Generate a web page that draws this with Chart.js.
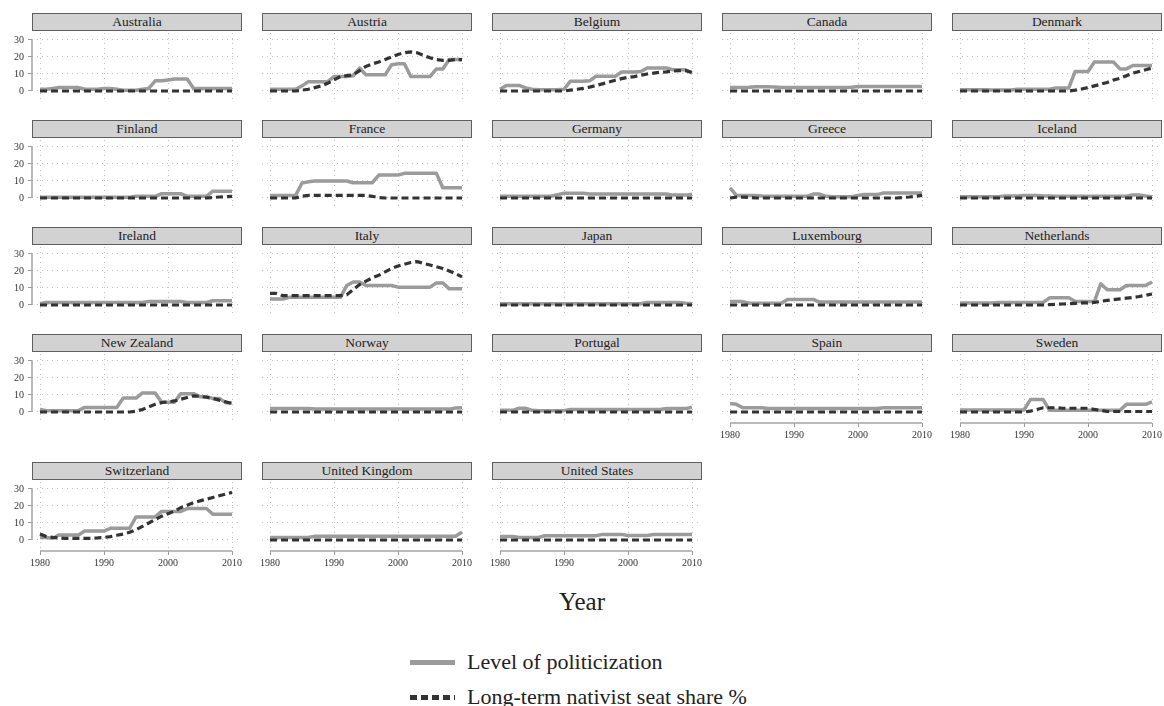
<!DOCTYPE html>
<html><head><meta charset="utf-8">
<script src="https://cdn.jsdelivr.net/npm/chart.js@4.4.0/dist/chart.umd.min.js"></script>
<style>
html,body{margin:0;padding:0;background:#fff;}
body{width:1164px;height:706px;overflow:hidden;position:relative;font-family:"Liberation Serif",serif;}
.hdr{position:absolute;height:18px;width:210px;box-sizing:border-box;border:1px solid #5e5e5e;background:#d2d2d2;text-align:center;font-size:13.5px;line-height:16px;color:#222;white-space:nowrap;}
canvas{position:absolute;}
.legtxt{position:absolute;left:467px;font-size:22px;line-height:24px;color:#222;white-space:nowrap;}
</style></head><body>
<div id="wrap"></div>
<div style="position:absolute;left:0;width:1164px;text-align:center;top:587px;font-size:25px;line-height:30px;color:#222">Year</div>
<div style="position:absolute;left:410px;top:660px;width:45px;height:5px;background:#9b9b9b"></div>
<div class="legtxt" style="top:650px">Level of politicization</div>
<div style="position:absolute;left:410px;top:695px;width:45px;height:5px;background:repeating-linear-gradient(to right,#333 0 7px,transparent 7px 11px)"></div>
<div class="legtxt" style="top:685px">Long-term nativist seat share %</div>
<script>
const years = [1980,1981,1982,1983,1984,1985,1986,1987,1988,1989,1990,1991,1992,1993,1994,1995,1996,1997,1998,1999,2000,2001,2002,2003,2004,2005,2006,2007,2008,2009,2010];
const countries = ["Australia","Austria","Belgium","Canada","Denmark","Finland","France","Germany","Greece","Iceland","Ireland","Italy","Japan","Luxembourg","Netherlands","New Zealand","Norway","Portugal","Spain","Sweden","Switzerland","United Kingdom","United States"];
const xTicks = [1980,1990,2000,2010];
const yTicks = [0,10,20,30];

const pol_Australia = [1,1,1.5,2,2,2,2,1,1,1,1.5,1.5,1,0.5,0.5,0.5,1,1.5,6,6,6.5,7,7,7,1.5,1.5,1.5,1.5,1.5,1.5,1.5];
const nat_Australia = [0,0,0,0,0,0,0,0,0,0,0,0,0,0,0,0,0,0,0,0,0,0,0,0,0,0,0,0,0,0,0];
const pol_Austria = [1,1,1,1,1,3,5.5,5.5,5.5,5.5,8.5,8.5,8.5,9,13.5,9.5,9.5,9.5,9.5,15.5,16,16,8.5,8.5,8.5,8.5,13,13,18.5,18.5,18.5];
const nat_Austria = [0,0,0,0,0,0.5,1,2,3,4.5,6.5,8.5,9,9.5,12,14.5,16,17,18.5,20,21.5,22.5,23,22.5,21,19.5,18.5,18,18,18.5,18.5];
const pol_Belgium = [1,3.3,3.3,3.3,1.8,1,0.8,0.8,0.8,0.8,1,5.8,5.8,5.8,6,8.7,8.7,8.7,8.7,11.2,11.2,11.2,11.5,13.5,13.5,13.5,13.5,12.5,12.5,12.5,10.5];
const nat_Belgium = [0,0,0,0,0,0,0,0,0,0,0,0.5,1,1.5,2.3,3.2,4.2,5.2,6.3,7.3,8,8.5,9.3,10,10.5,11,11.3,11.7,12,12,11];
const pol_Canada = [2,2,2,2.2,2.5,2.5,2.5,2.3,2,2,2,2,2,2,2,2,2,2,2,2.2,2.6,2.6,2.6,2.6,2.6,2.6,2.6,2.6,2.6,2.6,2.6];
const nat_Canada = [0,0,0,0,0,0,0,0,0,0,0,0,0,0,0,0,0,0,0,0,0,0,0,0,0,0,0,0,0,0,0];
const pol_Denmark = [0.8,0.8,0.8,0.8,0.8,0.6,0.6,0.6,0.6,1,1,1,1,1,1,1.8,1.8,1.8,11.5,11.5,11.5,17,17,17,17,13,13,15,15,15,15];
const nat_Denmark = [0,0,0,0,0,0,0,0,0,0,0,0,0,0,0,0,0,0,0.5,1.2,2,3,4,5,6.5,7.5,9,10.5,11.5,12.5,13.5];
const pol_Finland = [0.4,0.4,0.4,0.4,0.4,0.4,0.4,0.4,0.4,0.4,0.4,0.4,0.4,0.4,0.4,1,1,1,1,2.5,2.5,2.5,2.5,1,1,1,1,4,4,4,4];
const nat_Finland = [0,0,0,0,0,0,0,0,0,0,0,0,0,0,0,0,0,0,0,0,0,0,0,0,0,0,0,0.3,0.6,0.8,1];
const pol_France = [1.5,1.5,1.5,1.5,1.5,8.8,9.5,10,10,10,10,10,10,9,9,9,9,13.5,13.5,13.5,13.5,14.5,14.5,14.5,14.5,14.5,14.5,6,6,6,6];
const nat_France = [0,0,0,0,0,1,1.5,1.5,1.5,1.5,1.5,1.5,1.5,1.5,1.5,1.5,1,0.2,0,0,0,0,0,0,0,0,0,0,0,0,0];
const pol_Germany = [1,1,1,1,1,1,1,1,1,2,2.8,2.8,2.8,2.8,2.3,2.3,2.3,2.3,2.3,2.3,2.3,2.3,2.3,2.3,2.3,2.3,2.3,1.7,1.7,1.7,2.2];
const nat_Germany = [0,0,0,0,0,0,0,0,0,0,0,0,0,0,0,0,0,0,0,0,0,0,0,0,0,0,0,0,0,0,0];
const pol_Greece = [6,1.5,1.5,1.5,1.5,1.2,1,1,1,1,1,1,1,2.3,2.3,1,0.8,0.8,0.8,0.8,1.5,2,2,2,3,3,3,3,3,3,3];
const nat_Greece = [0,0.5,0.5,0.3,0,0,0,0,0,0,0,0,0,0,0,0,0,0,0,0,0,0,0,0,0,0,0,0.3,0.6,1,1.5];
const pol_Iceland = [0.8,0.8,0.8,0.8,0.8,0.8,0.8,1.2,1.2,1.2,1.5,1.5,1.5,1.2,1.2,1,1,1,1,1,1,1,1,1,1,1,1,1.8,1.8,1.2,0.8];
const nat_Iceland = [0,0,0,0,0,0,0,0,0,0,0,0,0,0,0,0,0,0,0,0,0,0,0,0,0,0,0,0,0,0,0];
const pol_Ireland = [0.8,1.5,1.5,1.5,1.5,1.5,1.5,1.5,1.5,1.5,1.5,1.5,1.5,1.5,1.5,1.5,1.5,2,2,2,2,2,2,1.5,1.5,1.5,1.5,2.5,2.5,2.5,2.5];
const nat_Ireland = [0,0,0,0,0,0,0,0,0,0,0,0,0,0,0,0,0,0,0,0,0,0,0,0,0,0,0,0,0,0,0];
const pol_Italy = [3.5,3.5,3.5,4.5,4.5,4.5,4.5,4.5,4.5,4.5,4.5,4.5,11.5,13.5,13.5,11.5,11.5,11.5,11.5,11.5,10.5,10.5,10.5,10.5,10.5,10.5,13,13,9.5,9.5,9.5];
const nat_Italy = [6.8,6.8,5.5,5.5,5.5,5.5,5.5,5.5,5.5,5.5,5.5,5.5,6,9,12,14,16,17.5,19.5,21.5,23,24,25,25.5,24.5,23.5,22.5,21.5,20,18.5,16.5];
const pol_Japan = [0.7,0.7,0.7,0.7,0.7,0.7,0.7,0.7,0.7,0.7,0.7,0.7,0.7,0.7,0.7,0.7,0.7,0.7,0.7,0.7,0.7,0.7,0.7,1.5,1.5,1.5,1.5,1.5,1.5,1,0.8];
const nat_Japan = [0,0,0,0,0,0,0,0,0,0,0,0,0,0,0,0,0,0,0,0,0,0,0,0,0,0,0,0,0,0,0];
const pol_Luxembourg = [2,2,2,1,1,1,1,1,1,3.3,3.3,3.3,3.3,3.3,1.7,1.7,1.7,1.7,1.7,1.7,1.7,1.7,1.7,1.7,1.7,1.7,1.7,1.7,1.7,1.7,1.7];
const nat_Luxembourg = [0,0,0,0,0,0,0,0,0,0,0,0,0,0,0,0,0,0,0,0,0,0,0,0,0,0,0,0,0,0,0];
const pol_Netherlands = [1.2,1.2,1.2,1.2,1.2,1.2,1.5,1.5,1.5,1.5,1.5,1.5,1.5,1.5,4.2,4.2,4.2,4.2,2,2,2,2,12.5,9,9,9,11.5,11.5,11.5,11.5,13.5];
const nat_Netherlands = [0,0,0,0,0,0,0,0,0,0,0,0,0,0,0.2,0.4,0.6,0.8,1,1.2,1.3,1.5,2.2,2.7,3.2,3.6,4,4.4,5,5.7,6.5];
const pol_NewZealand = [1.5,0.8,0.8,0.8,0.8,0.8,0.8,2.7,2.7,2.7,2.7,2.7,2.7,8.2,8.2,8.2,11.2,11.2,11.2,5.7,5.7,5.7,10.8,10.8,10.8,9,9,8,8,5.5,5.3];
const nat_NewZealand = [0,0,0,0,0,0,0,0,0,0,0,0,0,0,0,0.5,1.5,3,4.5,5.5,6,6.5,7.5,8.5,9.5,9.2,8.7,8,7,6,5];
const pol_Norway = [2,2,2,2,2,2,2,1.7,1.7,1.7,1.7,1.7,1.7,1.7,1.7,1.7,1.7,1.7,1.7,1.7,1.7,1.7,1.7,1.7,1.7,1.7,1.7,1.7,1.7,2.3,2.5];
const nat_Norway = [0,0,0,0,0,0,0,0,0,0,0,0,0,0,0,0,0,0,0,0,0,0,0,0,0,0,0,0,0,0,0];
const pol_Portugal = [1,1,1,2.2,2.2,1,0.8,0.8,0.8,0.8,0.8,1.5,1.5,1.5,1.5,1.5,1.5,1.5,1.5,1.5,1.5,1.5,1.5,1.5,1.5,1.5,2,2,2,2,2.8];
const nat_Portugal = [0,0,0,0,0,0,0,0,0,0,0,0,0,0,0,0,0,0,0,0,0,0,0,0,0,0,0,0,0,0,0];
const pol_Spain = [5,4.5,2.5,2.5,2.5,2.5,2,2,2,2,2,2,2,2,2,2,2,2,2,2,2,2,2,2,2.5,2.5,2.5,2.5,2.5,2.5,2.5];
const nat_Spain = [0,0,0,0,0,0,0,0,0,0,0,0,0,0,0,0,0,0,0,0,0,0,0,0,0,0,0,0,0,0,0];
const pol_Sweden = [1.2,1.2,1.2,1.2,1.2,1.2,1.2,1.2,1.2,1.2,1.2,7.3,7.3,7.3,1,1,1,1,1,1,1,1,1,1,1,1,4.5,4.5,4.5,4.5,6];
const nat_Sweden = [0,0,0,0,0,0,0,0,0,0,0,0.5,1.5,2.5,2.5,2.5,2.2,2.2,2.2,2.2,2.2,1.5,1,0.3,0.3,0.3,0.3,0.3,0.3,0.3,0.3];
const pol_Switzerland = [1.5,1.5,1,3,3,3,3,5.3,5.3,5.3,5.3,6.9,6.9,6.9,6.9,13.6,13.6,13.6,13.6,16.8,16.8,16.8,16.8,18.5,18.5,18.5,18.5,15.2,15.2,15.2,15.2];
const nat_Switzerland = [3.5,2,1.5,1.2,1,1,1,1,1,1.2,1.5,2,2.8,3.5,4.5,6,8,10,12,14,15.5,17,19,20.5,22,23,24,25,26,27,28];
const pol_UnitedKingdom = [1.5,1.5,1.5,1.5,1.5,1.5,1.5,2.2,2.2,2.2,2.2,2.2,2.2,2.2,2.2,2.2,2.2,2.2,2.2,2.2,2.2,2.2,2.2,2.2,2.2,2.2,2.2,2.2,2.2,2.2,4.7];
const nat_UnitedKingdom = [0,0,0,0,0,0,0,0,0,0,0,0,0,0,0,0,0,0,0,0,0,0,0,0,0,0,0,0,0,0,0];
const pol_UnitedStates = [2,2,2,1.5,1.5,1.5,1.5,2.5,2.5,2.5,2.5,2.5,2.5,2.5,2.5,2.5,3.3,3.3,3.3,3.3,2.7,2.7,2.7,2.7,3.2,3.2,3.2,3.2,3.2,3.2,3.2];
const nat_UnitedStates = [0,0,0,0,0,0,0,0,0,0,0,0,0,0,0,0,0,0,0,0,0,0,0,0,0,0,0,0,0,0,0];

const seriesFor = {
  "Australia":[pol_Australia,nat_Australia],"Austria":[pol_Austria,nat_Austria],"Belgium":[pol_Belgium,nat_Belgium],
  "Canada":[pol_Canada,nat_Canada],"Denmark":[pol_Denmark,nat_Denmark],"Finland":[pol_Finland,nat_Finland],
  "France":[pol_France,nat_France],"Germany":[pol_Germany,nat_Germany],"Greece":[pol_Greece,nat_Greece],
  "Iceland":[pol_Iceland,nat_Iceland],"Ireland":[pol_Ireland,nat_Ireland],"Italy":[pol_Italy,nat_Italy],
  "Japan":[pol_Japan,nat_Japan],"Luxembourg":[pol_Luxembourg,nat_Luxembourg],"Netherlands":[pol_Netherlands,nat_Netherlands],
  "New Zealand":[pol_NewZealand,nat_NewZealand],"Norway":[pol_Norway,nat_Norway],"Portugal":[pol_Portugal,nat_Portugal],
  "Spain":[pol_Spain,nat_Spain],"Sweden":[pol_Sweden,nat_Sweden],"Switzerland":[pol_Switzerland,nat_Switzerland],
  "United Kingdom":[pol_UnitedKingdom,nat_UnitedKingdom],"United States":[pol_UnitedStates,nat_UnitedStates]
};

const axisLines = {
  id:'axisLines',
  beforeDatasetsDraw(chart, args, opts){
    const {ctx, chartArea, scales} = chart;
    ctx.save();
    ctx.strokeStyle = '#a3a3a3';
    ctx.lineWidth = 1.5;
    if (opts.y){
      ctx.beginPath();
      ctx.moveTo(chartArea.left, scales.y.getPixelForValue(yTicks[0]));
      ctx.lineTo(chartArea.left, scales.y.getPixelForValue(yTicks[yTicks.length-1]));
      ctx.stroke();
    }
    if (opts.x){
      ctx.beginPath();
      ctx.moveTo(scales.x.getPixelForValue(xTicks[0]), chartArea.bottom);
      ctx.lineTo(scales.x.getPixelForValue(xTicks[xTicks.length-1]), chartArea.bottom);
      ctx.stroke();
    }
    ctx.restore();
  }
};

const headerTops = [13,120,227,334,462];
const wrap = document.getElementById('wrap');
const tickFont = {family:'Liberation Serif', size:10};

countries.forEach((name, i) => {
  const r = Math.floor(i/5), c = i%5;
  const showX = (r === 4) || (r === 3 && c >= 3);
  const showY = (c === 0);
  const top = headerTops[r];
  const hdr = document.createElement('div');
  hdr.className = 'hdr';
  hdr.style.left = (32 + 230*c) + 'px';
  hdr.style.top = top + 'px';
  hdr.textContent = name;
  wrap.appendChild(hdr);

  const cv = document.createElement('canvas');
  const h = showX ? 101 : 71;
  cv.width = 250; cv.height = h;
  cv.style.width = '250px'; cv.style.height = h + 'px';
  cv.style.left = (230*c) + 'px';
  cv.style.top = (top + 18) + 'px';
  wrap.appendChild(cv);

  const [pol, nat] = seriesFor[name];
  new Chart(cv, {
    type:'line',
    data:{datasets:[
      {label:'Level of politicization', data: years.map((yr,k)=>({x:yr, y:pol[k]})),
       borderColor:'#9b9b9b', borderWidth:3.5, pointRadius:0, order:2, borderJoinStyle:'round', tension:0},
      {label:'Long-term nativist seat share %', data: years.map((yr,k)=>({x:yr, y:nat[k]})),
       borderColor:'#333333', borderWidth:3.2, borderDash:[7,4], pointRadius:0, order:1, tension:0}
    ]},
    options:{
      responsive:false, animation:false, devicePixelRatio:1,
      layout:{padding:{top:2, right:10, left:0, bottom:0}},
      plugins:{legend:{display:false}, tooltip:{enabled:false}, axisLines:{x:showX, y:showY}},
      scales:{
        x:{type:'linear', min:1978.75, max:2011.25,
          afterBuildTicks:s=>{ s.ticks = xTicks.map(v=>({value:v})); },
          afterFit:s=>{ s.height = showX ? 30 : 0; s.paddingLeft = 0; s.paddingRight = 0; },
          grid:{color:'#c2c2c2', lineWidth:1, drawTicks:showX, tickLength:4, tickColor:'#9a9a9a', tickWidth:1},
          border:{display:false, dash:[1,4]},
          ticks:{display:showX, font:tickFont, color:'#333', padding:2, maxRotation:0, autoSkip:false, callback:v=>String(v)}
        },
        y:{type:'linear', min:-6.4706, max:34.1176,
          afterBuildTicks:s=>{ s.ticks = yTicks.map(v=>({value:v})); },
          afterFit:s=>{ s.width = 32; s.paddingTop = 0; s.paddingBottom = 0; },
          grid:{color:'#c2c2c2', lineWidth:1, drawTicks:showY, tickLength:4, tickColor:'#9a9a9a', tickWidth:1},
          border:{display:false, dash:[1,4]},
          ticks:{display:showY, font:tickFont, color:'#333', padding:4, autoSkip:false, callback:v=>String(v)}
        }
      }
    },
    plugins:[axisLines]
  });
});
</script>
</body></html>
